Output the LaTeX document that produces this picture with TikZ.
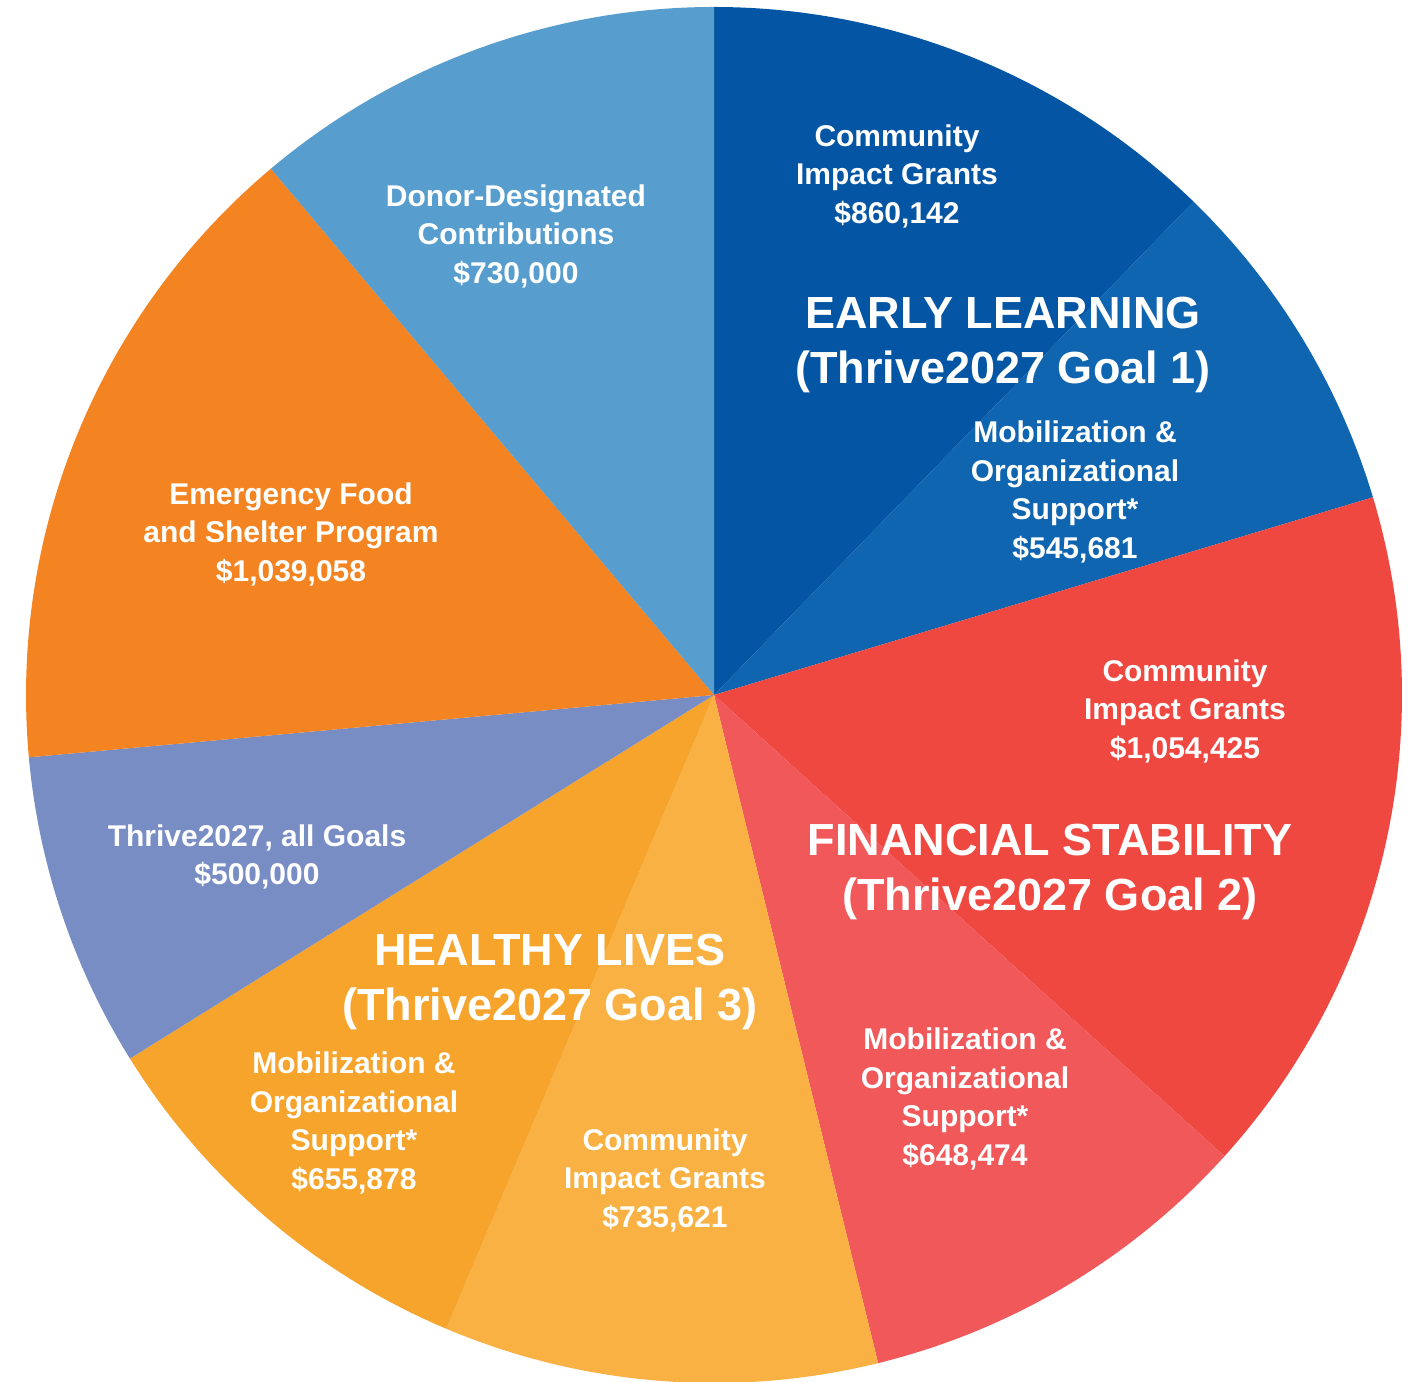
\documentclass[tikz,border=0pt]{standalone}
\usepackage{fontspec}
\setmainfont{Liberation Sans}
\definecolor{elcig}{HTML}{0456A5}
\definecolor{elmob}{HTML}{1065B1}
\definecolor{fscig}{HTML}{EE4841}
\definecolor{fsmob}{HTML}{F0585A}
\definecolor{hlcig}{HTML}{F8B142}
\definecolor{hlmob}{HTML}{F6A42C}
\definecolor{thr}{HTML}{798DC5}
\definecolor{efsp}{HTML}{F38421}
\definecolor{donor}{HTML}{579ECF}
\begin{document}
\begin{tikzpicture}[x=0.5pt,y=0.5pt,
  lbl/.style={text=white,align=center,inner sep=0pt,font=\bfseries\fontsize{15}{19.25}\selectfont},
  ttl/.style={text=white,align=center,inner sep=0pt,font=\bfseries\fontsize{22.5}{27.25}\selectfont}]
\useasboundingbox (0,0) rectangle (1421,1382);
\fill[white] (0,0) rectangle (1421,1382);
\coordinate (c) at (714,687);
\def\R{344pt}
\newcommand{\slice}[3]{\fill[#1] (c) -- ++(#2:\R) arc[start angle=#2,end angle=#3,radius=\R] -- cycle;}
\slice{elcig}{90}{45.8}
\slice{elmob}{45.8}{16.7}
\slice{fscig}{16.7}{-42.1}
\slice{fsmob}{-42.1}{-76.2}
\slice{hlcig}{-76.2}{-112.9}
\slice{hlmob}{-112.9}{-148.1}
\slice{thr}{-148.1}{-174.8}
\slice{efsp}{-174.8}{-229.9}
\slice{donor}{-229.9}{-270}
% labels
\node[lbl] (elc) at (897,1206) {Community\\Impact Grants\\\$860,142};
\node[ttl] (elt) at (1003,1037) {EARLY LEARNING\\(Thrive2027 Goal 1)};
\node[lbl] (elm) at (1075,890) {Mobilization \&\\Organizational\\Support*\\\$545,681};
\node[lbl] (don) at (516,1146) {Donor-Designated\\Contributions\\\$730,000};
\node[lbl] (efs) at (291,848) {Emergency Food\\and Shelter Program\\\$1,039,058};
\node[lbl] (thv) at (257,525) {Thrive2027, all Goals\\\$500,000};
\node[ttl] (hlt) at (550,400) {HEALTHY LIVES\\(Thrive2027 Goal 3)};
\node[lbl] (hlm) at (354,259) {Mobilization \&\\Organizational\\Support*\\\$655,878};
\node[lbl] (hlc) at (665,202) {Community\\Impact Grants\\\$735,621};
\node[lbl] (fsm) at (965,283) {Mobilization \&\\Organizational\\Support*\\\$648,474};
\node[ttl] (fst) at (1050,510) {FINANCIAL STABILITY\\(Thrive2027 Goal 2)};
\node[lbl] (fsc) at (1185,671) {Community\\Impact Grants\\\$1,054,425};
\end{tikzpicture}
\end{document}
